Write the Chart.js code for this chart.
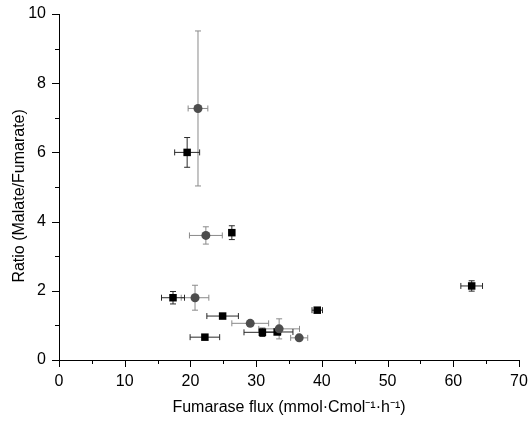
<!DOCTYPE html>
<html>
<head>
<meta charset="utf-8">
<script src="https://cdn.jsdelivr.net/npm/chart.js@4/dist/chart.umd.min.js"></script>
<style>
  html, body { margin: 0; padding: 0; background: #fff; }
</style>
</head>
<body>
<canvas id="chart" width="530" height="421"></canvas>
<script>
// black squares
const squareX = [19.5, 26.3, 17.35, 24.9, 22.2, 30.95, 33.2, 39.3, 62.8];
const squareY = [6.0, 3.68, 1.8, 1.27, 0.66, 0.8, 0.81, 1.44, 2.14];
const squareXErr = [1.9, 0.3, 1.75, 2.4, 2.25, 2.8, 2.4, 0.8, 1.65];
const squareYErr = [0.43, 0.2, 0.18, 0.05, 0.03, 0.12, 0.05, 0.05, 0.15];

// grey circles
const circleX = [21.15, 22.35, 20.7, 29.1, 33.5, 36.55];
const circleY = [7.27, 3.6, 1.8, 1.06, 0.9, 0.64];
const circleXErr = [1.5, 2.5, 2.1, 2.8, 3.1, 1.3];
const circleYErr = [2.24, 0.25, 0.36, 0.05, 0.29, 0.05];

const xTicks = [0, 10, 20, 30, 40, 50, 60, 70];
const yTicks = [0, 2, 4, 6, 8, 10];

const font = "'Liberation Sans', Arial, sans-serif";

function points(xs, ys, xe, ye) {
  return xs.map((x, i) => ({ x: x, y: ys[i], xErr: xe[i], yErr: ye[i] }));
}

// error bars drawn behind markers
const errorBars = {
  id: 'errorBars',
  beforeDatasetsDraw(chart) {
    const ctx = chart.ctx;
    const xs = chart.scales.x, ys = chart.scales.y;
    const cap = 3;
    ctx.save();
    ctx.lineWidth = 1;
    chart.data.datasets.forEach(ds => {
      ctx.strokeStyle = ds.errColor;
      ds.data.forEach(p => {
        const px = xs.getPixelForValue(p.x), py = ys.getPixelForValue(p.y);
        const x1 = xs.getPixelForValue(p.x - p.xErr), x2 = xs.getPixelForValue(p.x + p.xErr);
        const y1 = ys.getPixelForValue(p.y + p.yErr), y2 = ys.getPixelForValue(p.y - p.yErr);
        ctx.beginPath();
        ctx.moveTo(x1, py); ctx.lineTo(x2, py);
        ctx.moveTo(x1, py - cap); ctx.lineTo(x1, py + cap);
        ctx.moveTo(x2, py - cap); ctx.lineTo(x2, py + cap);
        ctx.moveTo(px, y1); ctx.lineTo(px, y2);
        ctx.moveTo(px - cap, y1); ctx.lineTo(px + cap, y1);
        ctx.moveTo(px - cap, y2); ctx.lineTo(px + cap, y2);
        ctx.stroke();
      });
    });
    ctx.restore();
  }
};

// major + minor tick marks pointing out of the plot
const tickMarks = {
  id: 'tickMarks',
  afterDraw(chart) {
    const ctx = chart.ctx;
    const xs = chart.scales.x, ys = chart.scales.y;
    const a = chart.chartArea;
    ctx.save();
    ctx.strokeStyle = '#000';
    ctx.lineWidth = 1;
    ctx.beginPath();
    for (let v = 0; v <= 70; v += 5) {
      const px = Math.round(xs.getPixelForValue(v)) + 0.5;
      ctx.moveTo(px, a.bottom);
      ctx.lineTo(px, a.bottom + (v % 10 === 0 ? 7 : 4));
    }
    for (let v = 0; v <= 10; v += 1) {
      const py = Math.round(ys.getPixelForValue(v)) + 0.5;
      ctx.moveTo(a.left, py);
      ctx.lineTo(a.left - (v % 2 === 0 ? 7 : 4), py);
    }
    ctx.stroke();
    ctx.restore();
  }
};

const ctx = document.getElementById('chart').getContext('2d');
new Chart(ctx, {
  type: 'scatter',
  data: {
    datasets: [
      {
        label: 'circles',
        data: points(circleX, circleY, circleXErr, circleYErr),
        pointStyle: 'circle',
        pointRadius: 4.5,
        backgroundColor: '#4d4d4d',
        borderColor: '#4d4d4d',
        borderWidth: 0,
        errColor: '#8a8a8a'
      },
      {
        label: 'squares',
        data: points(squareX, squareY, squareXErr, squareYErr),
        pointStyle: 'rect',
        pointRadius: 5.3,
        backgroundColor: '#000',
        borderColor: '#000',
        borderWidth: 0,
        errColor: '#2a2a2a'
      }
    ]
  },
  options: {
    responsive: false,
    animation: false,
    layout: { padding: { top: 14, right: 11, left: 0, bottom: 0 } },
    plugins: { legend: { display: false }, tooltip: { enabled: false } },
    scales: {
      x: {
        type: 'linear',
        min: 0, max: 70,
        afterFit: s => { s.height = 61; s.paddingLeft = 0; s.paddingRight = 0; },
        afterBuildTicks: s => { s.ticks = xTicks.map(v => ({ value: v })); },
        grid: { display: false, drawTicks: false },
        border: { display: true, color: '#000', width: 1 },
        ticks: { color: '#000', padding: 12, font: { family: font, size: 16 } },
        title: {
          display: true,
          text: 'Fumarase flux (mmol·Cmol⁻¹·h⁻¹)',
          color: '#000',
          font: { family: font, size: 16 },
          padding: { top: 4, bottom: 4 }
        }
      },
      y: {
        type: 'linear',
        min: 0, max: 10,
        afterFit: s => { s.width = 59; s.paddingTop = 0; s.paddingBottom = 0; },
        afterBuildTicks: s => { s.ticks = yTicks.map(v => ({ value: v })); },
        grid: { display: false, drawTicks: false },
        border: { display: true, color: '#000', width: 1 },
        ticks: { color: '#000', padding: 13, font: { family: font, size: 16 } },
        title: {
          display: true,
          text: 'Ratio (Malate/Fumarate)    ',
          color: '#000',
          font: { family: font, size: 16 },
          padding: { top: 10, bottom: 4 }
        }
      }
    }
  },
  plugins: [errorBars, tickMarks]
});
</script>
</body>
</html>
